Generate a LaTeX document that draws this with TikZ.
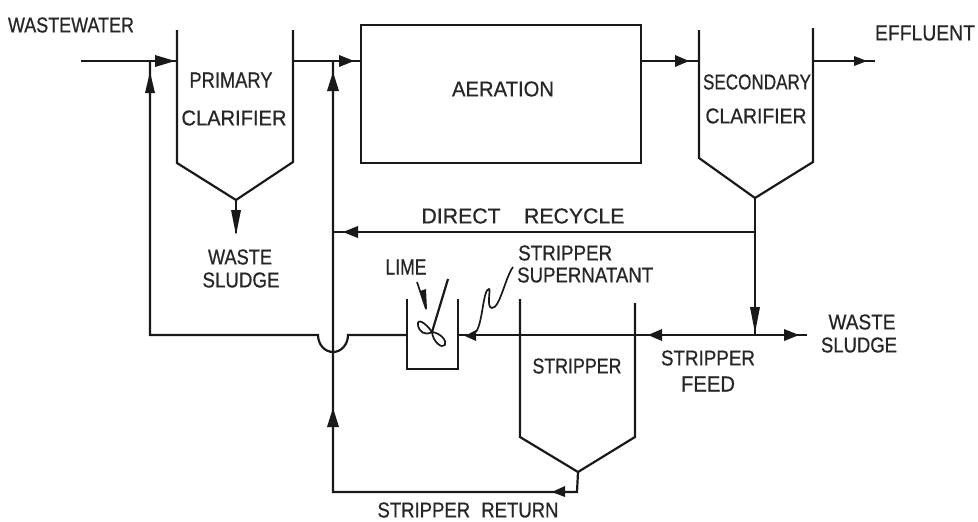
\documentclass[tikz,border=0pt]{standalone}
\usepackage{graphicx}
\usepackage{fontspec}
\setmainfont{Liberation Sans}[FakeBold=0.7]
\newcommand{\fitlbl}[2]{\resizebox{#1pt}{15pt}{#2}}
\tikzset{
  x=1pt,y=-1pt,
  flow/.style={line width=2.2pt,draw=black!90},
  tank/.style={line width=2.2pt,draw=black!90,line join=miter},
  thin flow/.style={line width=1.7pt,draw=black!90},
  head/.style={fill=black!90},
  lbl/.style={inner sep=0pt,text=black!85},
}
\begin{document}
\begin{tikzpicture}
\useasboundingbox (0,0) rectangle (978,522);
% tanks
\draw[tank] (177,30) -- (177,163) -- (236,200) -- (293,162) -- (293,30);
\draw[tank] (361,25) rectangle (641,163);
\draw[tank] (699,30) -- (699,158) -- (755,198) -- (813,162) -- (813,28);
\draw[tank] (520,299) -- (520,437) -- (578,472) -- (635,437) -- (635,303);
\draw[tank] (407,299) -- (407,369) -- (458,369) -- (458,299);
% connection points
\coordinate (inA) at (81,61);
\coordinate (j1) at (150,61);
\coordinate (p1in) at (177,61);
\coordinate (p1out) at (293,61);
\coordinate (j2) at (333,61);
\coordinate (aerIn) at (361,61);
\coordinate (aerOut) at (641,61);
\coordinate (s2in) at (699,61);
\coordinate (s2out) at (813,61);
\coordinate (outEnd) at (875,61);
\coordinate (pBot) at (236,200);
\coordinate (pEnd) at (236,233);
\coordinate (sBot) at (755,198);
\coordinate (jR) at (755,232);
\coordinate (jF) at (755,335);
\coordinate (stR) at (635,335);
\coordinate (wsEnd) at (807,335);
\coordinate (jD) at (333,232);
\coordinate (limeR) at (458,335);
\coordinate (limeL) at (407,335);
\coordinate (hR) at (348,335);
\coordinate (hL) at (318,335);
\coordinate (ret) at (150,335);
\coordinate (sBot2) at (578,472);
\coordinate (rc) at (577,492);
\coordinate (rl) at (333,492);
% flows
\draw[flow] (inA) -- (p1in);
\draw[flow] (p1out) -- (aerIn);
\draw[flow] (aerOut) -- (s2in);
\draw[flow] (s2out) -- (outEnd);
\draw[flow] (pBot) -- (pEnd);
\draw[flow] (sBot) -- (jF);
\draw[flow] (jR) -- (jD);
\draw[flow] (stR) -- (wsEnd);
\draw[flow] (stR) -- (limeR);
\draw[flow] (limeL) -- (hR) arc[start angle=0,end angle=180,x radius=15,y radius=17] -- (ret) -- (j1);
\draw[flow,line join=miter] (sBot2) -- (rc) -- (rl) -- (j2);
% arrowheads
\fill[head] (155,55) -- (175,61) -- (155,67) -- cycle;
\fill[head] (339,55) -- (354,61) -- (339,67) -- cycle;
\fill[head] (675,55) -- (689,61) -- (675,67) -- cycle;
\fill[head] (854,56) -- (867,61) -- (854,66) -- cycle;
\fill[head] (145,93) -- (150,72) -- (155,93) -- cycle;
\fill[head] (327,91) -- (333,72) -- (339,91) -- cycle;
\fill[head] (231,210) -- (236,235) -- (241,210) -- cycle;
\fill[head] (750,307) -- (755,333) -- (760,307) -- cycle;
\fill[head] (358,226) -- (343,232) -- (358,238) -- cycle;
\fill[head] (476,330) -- (465,336) -- (476,341) -- cycle;
\fill[head] (662,329) -- (648,335) -- (662,341) -- cycle;
\fill[head] (784,329) -- (799,335) -- (784,341) -- cycle;
\fill[head] (327,427) -- (333,408) -- (339,427) -- cycle;
\fill[head] (565,486) -- (552,492) -- (565,497) -- cycle;
% stirrer
\draw[flow] (448,279) -- (432,332);
\draw[thin flow,line join=round] (432,332) .. controls (425,322) and (417,318) .. (418,325) .. controls (419,332) and (425,336) .. (432,332) .. controls (433,342) and (442,349) .. (445,345) .. controls (447,340) and (440,333) .. (432,332);
% lime pointer
\draw[thin flow] (417,282) -- (426,309);
\fill[head] (420,291) -- (427,310) -- (426,289) -- cycle;
% supernatant squiggle
\draw[thin flow] (513,267) .. controls (505,278) and (500,308) .. (492,308) .. controls (486,308) and (491,289) .. (489,289) .. controls (483,289) and (483,322) .. (476,332);
% labels
\node[lbl] (wastewater) at (71,25) {\fitlbl{126}{WASTEWATER}};
\node[lbl] (primary) at (231,80) {\fitlbl{83}{PRIMARY}};
\node[lbl] (clar1) at (234,118) {\fitlbl{105}{CLARIFIER}};
\node[lbl] (aer) at (503,89) {\fitlbl{102}{AERATION}};
\node[lbl] (sec) at (757,82) {\fitlbl{108}{SECONDARY}};
\node[lbl] (clar2) at (756,116) {\fitlbl{101}{CLARIFIER}};
\node[lbl] (eff) at (925,33) {\fitlbl{100}{EFFLUENT}};
\node[lbl] (rec) at (523,216) {\fitlbl{203}{DIRECT\hspace{1.1em}RECYCLE}};
\node[lbl] (ws1) at (240,257) {\fitlbl{64}{WASTE}};
\node[lbl] (sl1) at (241,280) {\fitlbl{77}{SLUDGE}};
\node[lbl] (lime) at (406,267) {\fitlbl{41}{LIME}};
\node[lbl,anchor=west] (sup1) at (518,253) {\fitlbl{94}{STRIPPER}};
\node[lbl,anchor=west] (sup2) at (517,275) {\fitlbl{136}{SUPERNATANT}};
\node[lbl] (strip) at (577,366) {\fitlbl{89}{STRIPPER}};
\node[lbl] (feed) at (708,358) {\fitlbl{94}{STRIPPER}};
\node[lbl] (feed2) at (708,384) {\fitlbl{54}{FEED}};
\node[lbl] (ws2) at (862,322) {\fitlbl{67}{WASTE}};
\node[lbl] (sl2) at (859,345) {\fitlbl{76}{SLUDGE}};
\node[lbl] (sret) at (468,510) {\fitlbl{181}{STRIPPER\hspace{0.6em}RETURN}};
\end{tikzpicture}
\end{document}
